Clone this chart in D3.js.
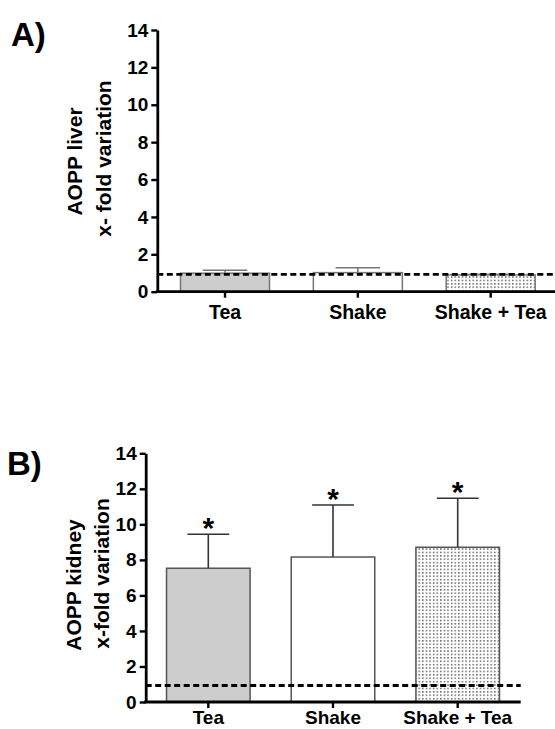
<!DOCTYPE html>
<html>
<head>
<meta charset="utf-8">
<script src="https://cdn.jsdelivr.net/npm/d3@7"></script>
<style>
  html, body { margin: 0; padding: 0; background: #fff; }
  svg { display: block; }
  text { font-family: "Liberation Sans", Arial, sans-serif; font-weight: bold; fill: #000; }
</style>
</head>
<body>
<svg id="chart" width="555" height="729"></svg>
<script>
// ---- data ----
const categories = ["Tea", "Shake", "Shake + Tea"];
const liverMeans = [0.99, 1.02, 0.90];
const liverErrors = [0.16, 0.26, 0.03];
const kidneyMeans = [7.53, 8.16, 8.71];
const kidneyErrors = [1.91, 2.93, 2.76];
const kidneyMarks = ["*", "*", "*"];
const liverMarks = ["", "", ""];
const yTicks = [0, 2, 4, 6, 8, 10, 12, 14];
const yMax = 14;
const referenceLevel = 0.93;
const panelLetters = ["A)", "B)"];
const liverTitle = ["AOPP liver", "x- fold variation"];
const kidneyTitle = ["AOPP kidney", "x-fold variation"];

const svg = d3.select("#chart");

// dot pattern for "Shake + Tea"
const defs = svg.append("defs");
const pat = defs.append("pattern")
  .attr("id", "dots").attr("patternUnits", "userSpaceOnUse")
  .attr("width", 3.6).attr("height", 3.4);
pat.append("rect").attr("width", 3.6).attr("height", 3.4).attr("fill", "#fff");
pat.append("rect").attr("x", 1).attr("y", 1).attr("width", 1.3).attr("height", 1.3).attr("fill", "#333");

const fills = ["#cdcdcd", "#ffffff", "url(#dots)"];
const FONT = "'Liberation Sans', Arial, sans-serif";

function panel(cfg) {
  const g = svg.append("g");
  const y = d3.scaleLinear().domain([0, yMax]).range([cfg.y0, cfg.yTop]);
  const x = d3.scaleBand().domain(categories)
    .range(cfg.bandRange).paddingInner(0.33).paddingOuter(0.165);

  // bars
  g.selectAll("rect.bar").data(categories).join("rect")
    .attr("class", "bar")
    .attr("x", d => x(d))
    .attr("width", x.bandwidth())
    .attr("y", (d, i) => y(cfg.means[i]))
    .attr("height", (d, i) => y(0) - y(cfg.means[i]))
    .attr("fill", (d, i) => fills[i])
    .attr("stroke", cfg.barStroke)
    .attr("stroke-width", 1.5);

  // error bars (upper only)
  const eb = g.selectAll("g.err").data(categories).join("g").attr("class", "err");
  eb.append("line")
    .attr("x1", d => x(d) + x.bandwidth() / 2)
    .attr("x2", d => x(d) + x.bandwidth() / 2)
    .attr("y1", (d, i) => y(cfg.means[i]))
    .attr("y2", (d, i) => y(cfg.means[i] + cfg.errors[i]))
    .attr("stroke", cfg.errStroke).attr("stroke-width", 1.6);
  eb.append("line")
    .attr("x1", d => x(d) + x.bandwidth() / 4)
    .attr("x2", d => x(d) + x.bandwidth() * 3 / 4)
    .attr("y1", (d, i) => y(cfg.means[i] + cfg.errors[i]))
    .attr("y2", (d, i) => y(cfg.means[i] + cfg.errors[i]))
    .attr("stroke", cfg.errStroke).attr("stroke-width", 1.6);

  // significance marks
  g.selectAll("text.sig").data(categories).join("text")
    .attr("class", "sig")
    .attr("x", d => x(d) + x.bandwidth() / 2)
    .attr("y", (d, i) => y(cfg.means[i] + cfg.errors[i]) + 4)
    .attr("text-anchor", "middle")
    .style("font-size", "30px")
    .text((d, i) => cfg.marks[i]);

  // reference dashed line
  g.append("line")
    .attr("x1", cfg.axisX).attr("x2", cfg.xEnd)
    .attr("y1", y(referenceLevel)).attr("y2", y(referenceLevel))
    .attr("stroke", "#000").attr("stroke-width", 2.8)
    .attr("stroke-dasharray", "6,3.5");

  // y axis
  const ya = g.append("g").attr("transform", `translate(${cfg.axisX},0)`)
    .call(d3.axisLeft(y).tickValues(yTicks).tickSize(6).tickSizeOuter(0).tickPadding(3));
  ya.select(".domain").attr("stroke-width", 2.8).attr("stroke", "#000");
  ya.selectAll(".tick line").attr("stroke-width", 2.4).attr("stroke", "#000");
  ya.selectAll(".tick text").style("font-size", "19px")
    .style("font-family", FONT).style("font-weight", "bold");

  // x axis
  const xa = g.append("g").attr("transform", `translate(0,${cfg.y0})`)
    .call(d3.axisBottom(x).tickSize(6).tickSizeOuter(0).tickPadding(cfg.xPad));
  xa.select(".domain").remove();
  xa.selectAll(".tick line").attr("stroke-width", 2.4).attr("stroke", "#000");
  xa.selectAll(".tick text").style("font-size", cfg.xFont)
    .style("font-family", FONT).style("font-weight", "bold");
  g.append("line")
    .attr("x1", cfg.axisX - 1.4).attr("x2", cfg.xEnd)
    .attr("y1", cfg.y0).attr("y2", cfg.y0)
    .attr("stroke", "#000").attr("stroke-width", 2.8);

  // y title (two lines, rotated)
  cfg.title.forEach((t, i) => {
    g.append("text")
      .attr("transform", `translate(${cfg.titleX[i]},${cfg.titleY[i]}) rotate(-90)`)
      .attr("text-anchor", "middle")
      .style("font-size", "21px")
      .text(t);
  });

  // panel letter
  g.append("text")
    .attr("x", cfg.letterX).attr("y", cfg.letterY)
    .style("font-size", "33px")
    .text(cfg.letter);
}

panel({
  means: liverMeans, errors: liverErrors, marks: liverMarks,
  y0: 291.7, yTop: 30, axisX: 157.3, xEnd: 560,
  bandRange: [158.6, 557.1], xPad: 7, xFont: "19.5px",
  barStroke: "#777", errStroke: "#777",
  title: liverTitle, titleX: [82, 111], titleY: [161.5, 158.5],
  letter: panelLetters[0], letterX: 11, letterY: 46
});

panel({
  means: kidneyMeans, errors: kidneyErrors, marks: kidneyMarks,
  y0: 702, yTop: 453.3, axisX: 145.7, xEnd: 520.7,
  bandRange: [145.95, 520.05], xPad: 2.5, xFont: "19px",
  barStroke: "#555", errStroke: "#333",
  title: kidneyTitle, titleX: [81, 109], titleY: [585, 573.5],
  letter: panelLetters[1], letterX: 7, letterY: 475
});
</script>
</body>
</html>
